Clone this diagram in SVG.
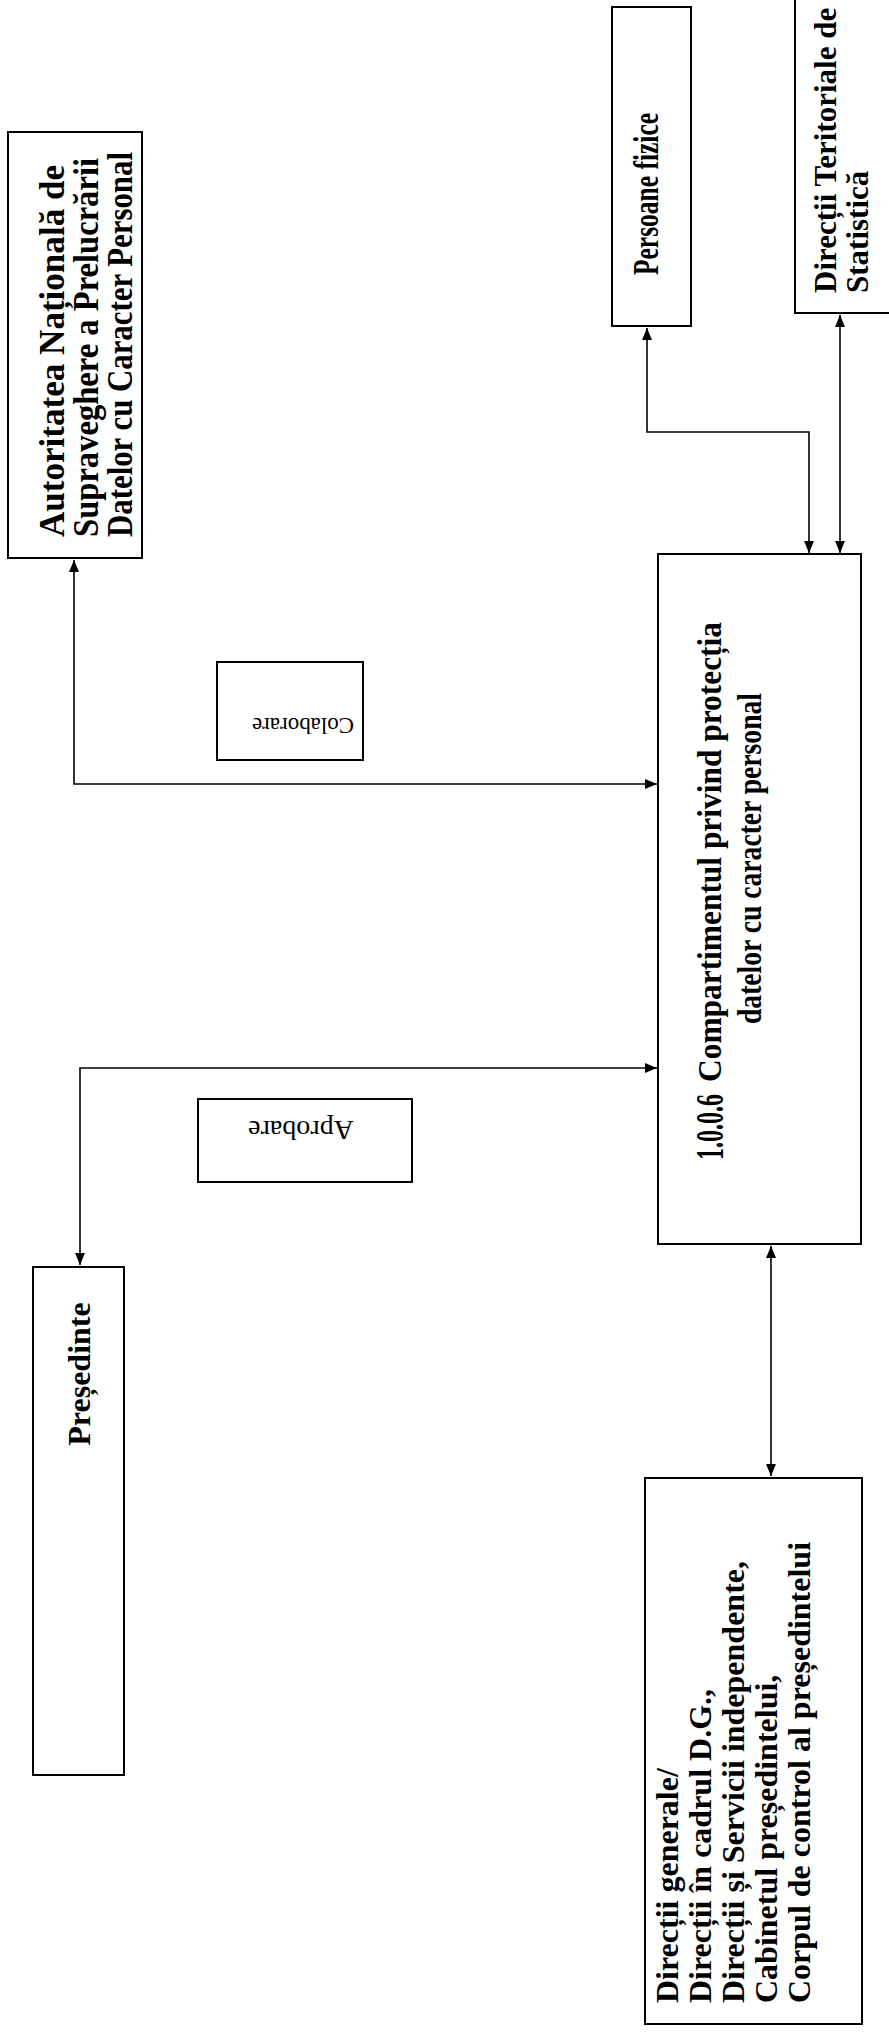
<svg xmlns="http://www.w3.org/2000/svg" width="889" height="2033" viewBox="0 0 889 2033">
<style>
  .box { fill: #fff; stroke: #000; stroke-width: 2; }
  .lbl { fill: #fff; stroke: #000; stroke-width: 2; }
  .conn { fill: none; stroke: #000; stroke-width: 1.6; }
  .tb { font-family: "Liberation Serif", "Times New Roman", serif; font-weight: bold; fill: #000; }
  .tr { font-family: "Liberation Serif", "Times New Roman", serif; fill: #000; }
</style>
<defs>
  <marker id="arr" viewBox="0 0 12 10" markerUnits="userSpaceOnUse" markerWidth="12" markerHeight="10" refX="12" refY="5" orient="auto-start-reverse">
    <path d="M0,0 L12,5 L0,10 z" fill="#000"/>
  </marker>
</defs>
<rect width="889" height="2033" fill="#fff"/>

<g id="connectors">
  <path class="conn" d="M647,328 V432 H809 V553" marker-start="url(#arr)" marker-end="url(#arr)"/>
  <path class="conn" d="M840,315 V553" marker-start="url(#arr)" marker-end="url(#arr)"/>
  <path class="conn" d="M74,560 V784 H657" marker-start="url(#arr)" marker-end="url(#arr)"/>
  <path class="conn" d="M80,1265 V1068 H657" marker-start="url(#arr)" marker-end="url(#arr)"/>
  <path class="conn" d="M771,1246 V1476" marker-start="url(#arr)" marker-end="url(#arr)"/>
</g>

<g id="autoritatea">
  <rect class="box" x="8" y="132" width="134" height="426"/>
  <text class="tb" font-size="35" textLength="372" lengthAdjust="spacingAndGlyphs" transform="translate(64,537) rotate(-90)">Autoritatea Națională de</text>
  <text class="tb" font-size="35" textLength="379" lengthAdjust="spacingAndGlyphs" transform="translate(98,537) rotate(-90)">Supraveghere a Prelucrării</text>
  <text class="tb" font-size="35" textLength="385" lengthAdjust="spacingAndGlyphs" transform="translate(132,537) rotate(-90)">Datelor cu Caracter Personal</text>
</g>

<g id="persoane-fizice">
  <rect class="box" x="612" y="7" width="79" height="319"/>
  <text class="tb" font-size="36" textLength="162" lengthAdjust="spacingAndGlyphs" transform="translate(658,275) rotate(-90)">Persoane fizice</text>
</g>

<g id="directii-teritoriale">
  <rect class="box" x="795" y="-4" width="100" height="317"/>
  <text class="tb" font-size="31" transform="translate(836,293) rotate(-90)">Direcții Teritoriale de</text>
  <text class="tb" font-size="31" transform="translate(868,293) rotate(-90)">Statistică</text>
</g>

<g id="compartiment">
  <rect class="box" x="658" y="554" width="203" height="690"/>
  <text class="tb" font-size="40" textLength="66" lengthAdjust="spacingAndGlyphs" transform="translate(723,1160) rotate(-90)">1.0.0.6</text>
  <text class="tb" font-size="33" textLength="460" lengthAdjust="spacingAndGlyphs" transform="translate(721,1082) rotate(-90)">Compartimentul privind protecția</text>
  <text class="tb" font-size="33" textLength="331" lengthAdjust="spacingAndGlyphs" transform="translate(761,1024) rotate(-90)">datelor cu caracter personal</text>
</g>

<g id="colaborare">
  <rect class="lbl" x="217" y="662" width="146" height="98"/>
  <text class="tr" font-size="23" text-anchor="middle" transform="translate(303,718) rotate(180)">Colaborare</text>
</g>

<g id="aprobare">
  <rect class="lbl" x="198" y="1099" width="214" height="83"/>
  <text class="tr" font-size="28" text-anchor="middle" transform="translate(301,1121) rotate(180)">Aprobare</text>
</g>

<g id="presedinte">
  <rect class="box" x="33" y="1267" width="91" height="508"/>
  <text class="tb" font-size="32" text-anchor="middle" transform="translate(90,1374) rotate(-90)">Președinte</text>
</g>

<g id="directii-generale">
  <rect class="box" x="645" y="1478" width="217" height="546"/>
  <text class="tb" font-size="32" transform="translate(678,2003) rotate(-90)">Direcții generale/</text>
  <text class="tb" font-size="32" transform="translate(711,2003) rotate(-90)">Direcții în cadrul D.G.,</text>
  <text class="tb" font-size="32" transform="translate(744,2003) rotate(-90)">Direcții și Servicii independente,</text>
  <text class="tb" font-size="32" transform="translate(777,2003) rotate(-90)">Cabinetul președintelui,</text>
  <text class="tb" font-size="32" transform="translate(810,2003) rotate(-90)">Corpul de control al președintelui</text>
</g>
</svg>
